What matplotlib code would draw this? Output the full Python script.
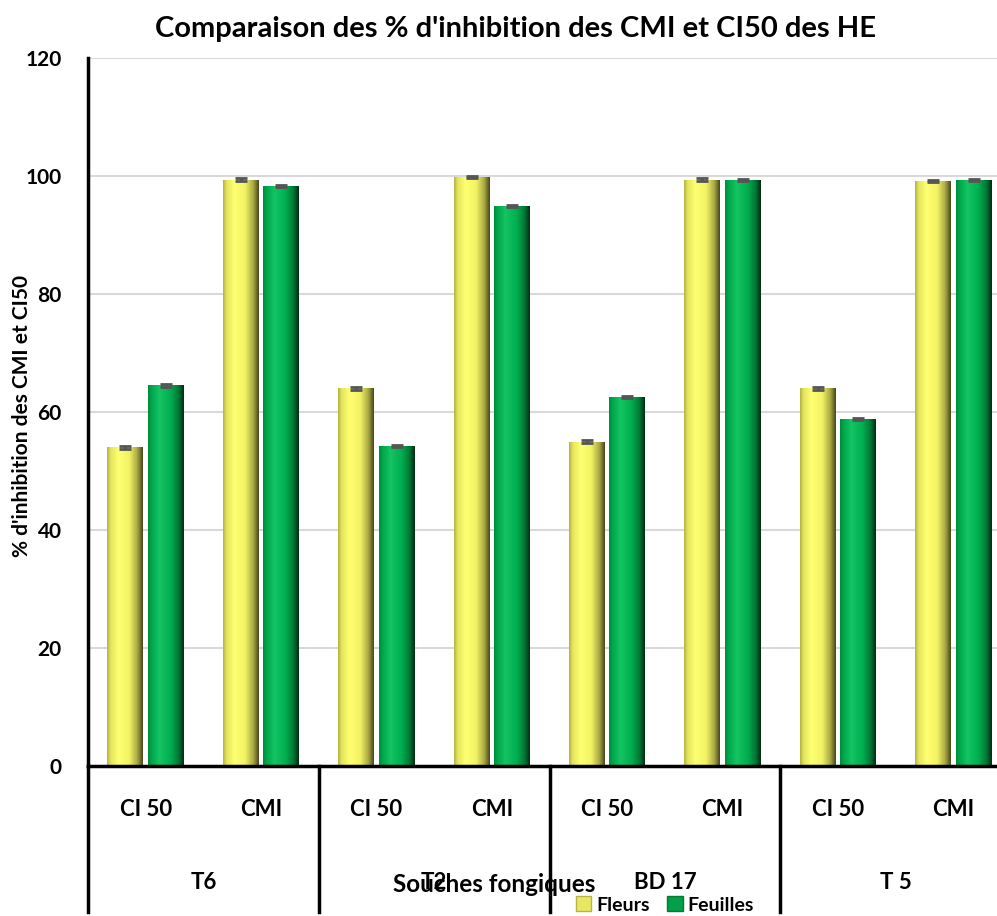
import numpy as np
import matplotlib
matplotlib.use("Agg")
import matplotlib.pyplot as plt
from matplotlib.colors import LinearSegmentedColormap
from matplotlib.patches import Patch
from matplotlib.transforms import blended_transform_factory

# Données : % d'inhibition pour chaque souche et chaque concentration
souches = ["T6", "T2", "BD 17", "T 5"]
mesures = ["CI 50", "CMI"]
fleurs = [54.0, 99.4, 64.0, 99.8, 55.0, 99.4, 64.0, 99.2]
feuilles = [64.5, 98.3, 54.2, 94.9, 62.5, 99.3, 58.8, 99.3]
err_fleurs = [0.2, 0.2, 0.2, 0.2, 0.2, 0.2, 0.2, 0.2]
err_feuilles = [0.2, 0.2, 0.2, 0.2, 0.2, 0.2, 0.2, 0.2]

plt.rcParams['font.family'] = ['Lato', 'DejaVu Sans']
plt.rcParams['font.weight'] = 'bold'

fig = plt.figure(figsize=(9.97, 9.16), dpi=100)
ax = fig.add_axes([88 / 997, 150 / 916, 923 / 997, 708 / 916])

# dégradés pour donner un effet cylindre aux barres
cmap_jaune = LinearSegmentedColormap.from_list("jaune", [
    (0.0, "#b5b545"), (0.1, "#e6e65e"), (0.32, "#ffff72"),
    (0.62, "#f2f264"), (0.85, "#a8a844"), (1.0, "#4a4a1c")])
cmap_vert = LinearSegmentedColormap.from_list("vert", [
    (0.0, "#008c3e"), (0.1, "#00a84c"), (0.32, "#14c463"),
    (0.62, "#00b050"), (0.85, "#007a36"), (1.0, "#002e14")])
grad = np.linspace(0, 1, 64).reshape(1, -1)

x = np.arange(len(fleurs))
w = 0.312
dx = 0.175

for vals, errs, off, cmap, col in [(fleurs, err_fleurs, -dx, cmap_jaune, "#f0f060"),
                                   (feuilles, err_feuilles, dx, cmap_vert, "#00b050")]:
    bars = ax.bar(x + off, vals, width=w, color=col, zorder=2, linewidth=0)
    for b in bars:
        x0, y0 = b.get_x(), b.get_y()
        im = ax.imshow(grad, cmap=cmap, aspect='auto', zorder=2.1,
                       extent=[x0, x0 + b.get_width(), y0, y0 + b.get_height()])
        im.set_clip_path(b)
    ax.errorbar(x + off, vals, yerr=errs, fmt='none', ecolor="#555555",
                elinewidth=2, capsize=4.3, capthick=2, zorder=3)

ax.set_xlim(-0.5, 7.5)
ax.set_ylim(0, 120)
ax.set_yticks(np.arange(0, 121, 20))
ax.tick_params(axis='y', length=0, pad=19, labelsize=15)
ax.set_xticks([])
ax.grid(axis='y', color="#d9d9d9", linewidth=1.5, zorder=0)
ax.set_axisbelow(True)
for s in ["top", "right"]:
    ax.spines[s].set_visible(False)
ax.spines["left"].set_linewidth(2.5)
ax.spines["bottom"].set_linewidth(2.5)

ax.set_ylabel("% d'inhibition des CMI et CI50", fontsize=15, fontweight='bold')
ax.yaxis.set_label_coords(-0.061, 0.495)

# axe des catégories à deux niveaux
trans = blended_transform_factory(ax.transData, ax.transAxes)
for i in x:
    ax.text(i, -0.062, mesures[i % 2], transform=trans, ha='center', va='center',
            fontsize=16, fontweight='bold')
for g, nom in enumerate(souches):
    ax.text(2 * g + 0.5, -0.165, nom, transform=trans, ha='center', va='center',
            fontsize=16, fontweight='bold')
for sep in [-0.5, 1.5, 3.5, 5.5, 7.5]:
    ax.plot([sep, sep], [0, -0.206], transform=trans, color="black",
            linewidth=2.5, clip_on=False, zorder=4)

fig.text(494 / 997, 1 - 884 / 916, "Souches fongiques", ha='center', va='center',
         fontsize=17.5, fontweight='bold')
fig.text(515 / 997, 1 - 29 / 916, "Comparaison des % d'inhibition des CMI et CI50 des HE",
         ha='center', va='center', fontsize=21, fontweight='bold')

handles = [Patch(facecolor="#e8e860", edgecolor="#b5b545", label="Fleurs"),
           Patch(facecolor="#00a04a", edgecolor="#007a36", label="Feuilles")]
fig.legend(handles=handles, loc='center', bbox_to_anchor=(665 / 997, 1 - 905 / 916),
           ncol=2, frameon=False, handlelength=0.8, handleheight=0.8,
           columnspacing=0.9, handletextpad=0.25, prop={'size': 14, 'weight': 'bold'})

fig.savefig("out.png", dpi=100)
